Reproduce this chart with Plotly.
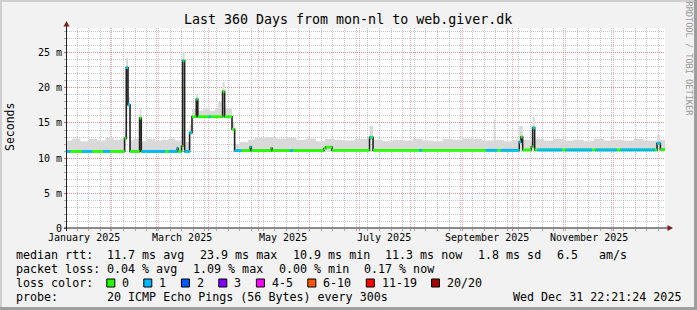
import pandas as pd
import plotly.graph_objects as go

# ---------------- data ----------------
t_start = "2025-01-05 22:21:24"
t_end = "2025-12-31 22:21:24"

# median rtt (ms), step series (value holds until next time)
median_t = [
    "2025-01-05 22:21", "2025-02-09 14:40", "2025-02-10 15:00", "2025-02-11 15:40",
    "2025-02-12 20:40", "2025-02-18 15:20", "2025-02-19 15:50", "2025-03-13 08:00",
    "2025-03-13 20:00", "2025-03-15 22:00", "2025-03-16 12:40", "2025-03-17 17:30",
    "2025-03-20 17:45", "2025-03-22 04:30", "2025-03-24 18:30", "2025-03-25 16:20",
    "2025-04-09 14:40", "2025-04-10 19:30", "2025-04-15 06:30", "2025-04-16 20:00",
    "2025-04-26 06:40", "2025-04-26 21:00", "2025-05-08 22:00", "2025-05-09 12:00",
    "2025-06-09 12:00", "2025-06-10 16:00", "2025-06-14 11:00", "2025-07-07 02:00",
    "2025-07-09 03:40", "2025-10-05 05:45", "2025-10-06 06:00", "2025-10-07 05:15",
    "2025-10-12 11:00", "2025-10-13 05:45", "2025-10-14 10:45", "2025-12-27 03:20",
    "2025-12-29 03:00", "2025-12-31 22:21",
]
median_ms = [
    10.95, 12.8, 22.9, 17.6,
    10.95, 15.7, 10.95, 11.4,
    10.95, 11.7, 23.9, 10.95,
    13.6, 15.9, 18.4, 15.9,
    19.5, 15.9, 14.1, 11.05,
    11.6, 11.05, 11.4, 11.05,
    11.35, 11.55, 11.1, 12.95,
    11.1, 12.3, 13.0, 11.15,
    11.6, 14.3, 11.15, 12.1,
    11.2, 11.2,
]

# smoke band (min / max ping rtt, ms)
smoke_t = [
    "2025-01-05 22:21", "2025-01-09", "2025-01-14", "2025-01-19", "2025-01-24",
    "2025-01-29", "2025-02-03", "2025-02-07", "2025-02-09 14:40", "2025-02-10 12:00",
    "2025-02-11 15:40", "2025-02-12 20:40", "2025-02-15", "2025-02-18 15:20",
    "2025-02-19 15:50", "2025-02-23", "2025-02-28", "2025-03-04", "2025-03-08",
    "2025-03-12", "2025-03-15 22:00", "2025-03-16 12:40", "2025-03-17 17:30",
    "2025-03-20 17:45", "2025-03-22 04:30", "2025-03-24 18:30", "2025-03-25 16:20",
    "2025-03-29", "2025-04-02", "2025-04-05", "2025-04-07", "2025-04-09 14:40",
    "2025-04-10 19:30", "2025-04-15 06:30", "2025-04-16 20:00", "2025-04-20",
    "2025-04-25", "2025-04-29", "2025-05-05", "2025-05-12", "2025-05-18",
    "2025-05-24", "2025-05-30", "2025-06-05", "2025-06-10", "2025-06-16",
    "2025-06-22", "2025-06-28", "2025-07-07 02:00", "2025-07-09 03:40", "2025-07-15",
    "2025-07-21", "2025-07-27", "2025-08-02", "2025-08-08", "2025-08-14",
    "2025-08-20", "2025-08-26", "2025-09-01", "2025-09-07", "2025-09-13",
    "2025-09-19 19:00", "2025-09-20 19:00", "2025-09-26", "2025-10-01",
    "2025-10-05 05:45", "2025-10-07 05:15", "2025-10-12 11:00", "2025-10-13 05:45",
    "2025-10-14 10:45", "2025-10-20", "2025-10-26", "2025-11-01", "2025-11-07",
    "2025-11-13", "2025-11-19", "2025-11-25", "2025-12-01", "2025-12-07",
    "2025-12-13", "2025-12-19", "2025-12-27 03:20", "2025-12-29 03:00",
    "2025-12-31 22:21",
]
smoke_lo = [
    10.75, 10.75, 10.75, 10.75, 10.75,
    10.75, 10.75, 10.75, 12.6, 17.4,
    17.4, 10.75, 10.75, 15.5,
    10.75, 10.75, 10.75, 10.75, 10.75,
    10.75, 11.5, 23.7, 10.75,
    13.4, 15.7, 18.2, 15.7,
    15.7, 15.7, 15.7, 15.7, 19.3,
    15.7, 13.9, 10.85, 10.85,
    10.85, 10.85, 10.85, 10.85, 10.85,
    10.85, 10.85, 10.85, 10.85, 10.85,
    10.85, 10.85, 12.6, 10.9, 10.9,
    10.9, 10.9, 10.9, 10.9, 10.9,
    10.9, 10.9, 10.9, 10.9, 10.9,
    10.9, 10.9, 10.9, 10.9,
    12.1, 10.9, 11.4, 14.1,
    10.95, 10.95, 10.95, 10.95, 10.95,
    10.95, 10.95, 10.95, 10.95, 10.95,
    10.95, 10.95, 11.9, 10.95,
    10.95,
]
smoke_hi = [
    12.5, 12.8, 12.4, 12.7, 12.5,
    12.9, 12.6, 12.8, 14.0, 24.3,
    18.7, 12.5, 12.8, 17.1,
    12.4, 12.7, 12.5, 12.6, 12.8,
    12.5, 13.0, 25.2, 12.3,
    14.8, 17.0, 19.2, 16.8,
    17.2, 16.7, 17.0, 18.0, 20.9,
    17.1, 15.0, 12.0, 12.3,
    12.6, 12.9, 13.0, 12.8, 12.9,
    12.6, 12.8, 12.4, 12.7, 12.6,
    12.5, 12.7, 14.6, 12.6, 12.4,
    12.6, 12.5, 12.7, 12.5, 12.4,
    12.7, 12.6, 12.8, 12.7, 12.5,
    15.5, 12.6, 12.4, 12.6,
    14.6, 12.6, 12.2, 15.9,
    12.7, 12.5, 12.7, 12.5, 12.6,
    12.4, 12.7, 12.5, 12.6, 12.5,
    12.7, 12.5, 13.3, 12.6,
    12.6,
]

# periods where 1 of 20 pings was lost (everything else: 0 lost)
loss1_from = [
    "2025-01-05 22:21", "2025-01-15 00:00", "2025-01-27 18:00", "2025-02-10 15:00",
    "2025-02-20 00:00", "2025-03-08 00:00", "2025-03-16 12:40", "2025-03-17 17:30",
    "2025-03-20 17:45", "2025-03-24 18:30", "2025-04-01 07:00", "2025-04-17 00:00",
    "2025-04-26 06:40", "2025-05-20 00:00", "2025-07-07 02:00", "2025-08-06 00:00",
    "2025-09-15 00:00", "2025-09-24 00:00", "2025-10-05 05:45", "2025-10-13 05:45",
    "2025-10-16 00:00", "2025-11-02 00:00", "2025-11-20 00:00", "2025-12-05 00:00",
    "2025-12-27 03:20",
]
loss1_to = [
    "2025-01-08 00:00", "2025-01-21 00:00", "2025-02-01 00:00", "2025-02-12 20:40",
    "2025-03-06 00:00", "2025-03-14 00:00", "2025-03-17 04:00", "2025-03-20 17:45",
    "2025-03-22 04:30", "2025-03-25 04:00", "2025-04-02 10:00", "2025-04-21 00:00",
    "2025-04-26 21:00", "2025-05-22 00:00", "2025-07-08 02:00", "2025-08-07 12:00",
    "2025-09-22 00:00", "2025-10-05 05:45", "2025-10-06 06:00", "2025-10-14 10:45",
    "2025-10-31 00:00", "2025-11-18 00:00", "2025-12-03 00:00", "2025-12-26 00:00",
    "2025-12-29 03:00",
]

y_tick_vals = [0, 5, 10, 15, 20, 25]
y_tick_text = ["0", "5 m", "10 m", "15 m", "20 m", "25 m"]
month_label_t = ["2025-01-16", "2025-03-16", "2025-05-16", "2025-07-16", "2025-09-16", "2025-11-16"]
month_label_text = ["January 2025", "March 2025", "May 2025", "July 2025", "September 2025", "November 2025"]

loss_labels = ["0", "1", "2", "3", "4-5", "6-10", "11-19", "20/20"]
loss_colors = ["#26ff00", "#00b8ff", "#0059ff", "#7e00ff", "#ff00ff", "#ff5500", "#ff0000", "#a10000"]

stats_rtt = ["11.7 ms avg", "23.9 ms max", "10.9 ms min", "11.3 ms now", "1.8 ms sd", "6.5", "am/s"]
stats_loss = ["0.04 % avg", "1.09 % max", "0.00 % min", "0.17 % now"]
probe_text = "20 ICMP Echo Pings (56 Bytes) every 300s"
stamp_text = "Wed Dec 31 22:21:24 2025"
title_text = "Last 360 Days from mon-nl to web.giver.dk"

# ---------------- layout geometry ----------------
W, H = 697, 310
L, R, T, B = 67, 32, 28, 82
PW, PH = W - L - R, H - T - B
Y_MAX = 28.57
MONO = "DejaVu Sans Mono"
LEG = 11.66


def px(x):
    return (x - L) / PW


def py(y):
    return (T + PH - y) / PH


# ---------------- build traces ----------------
mt = pd.to_datetime(median_t)
segx, segy = [], []
for i in range(len(mt) - 1):
    segx += [mt[i], mt[i + 1], None]
    segy += [median_ms[i], median_ms[i], None]

bx, by = [], []
for a, b in zip(pd.to_datetime(loss1_from), pd.to_datetime(loss1_to)):
    for i in range(len(mt) - 1):
        s, e = max(a, mt[i]), min(b, mt[i + 1])
        if s < e:
            bx += [s, e, None]
            by += [median_ms[i], median_ms[i], None]

fig = go.Figure()
fig.add_trace(go.Scatter(x=smoke_t, y=smoke_lo, mode="lines", line=dict(width=0, shape="hv"),
                         hoverinfo="skip", showlegend=False))
fig.add_trace(go.Scatter(x=smoke_t, y=smoke_hi, mode="lines", line=dict(width=0, shape="hv"),
                         fill="tonexty", fillcolor="#d9d9d9", hoverinfo="skip", showlegend=False))
fig.add_trace(go.Scatter(x=median_t, y=median_ms, mode="lines",
                         line=dict(color="#202020", width=1.6, shape="hv"), showlegend=False))
fig.add_trace(go.Scatter(x=segx, y=segy, mode="lines", line=dict(color=loss_colors[0], width=2.8),
                         connectgaps=False, showlegend=False))
fig.add_trace(go.Scatter(x=bx, y=by, mode="lines", line=dict(color=loss_colors[1], width=2.8),
                         connectgaps=False, showlegend=False))

anns = []


def text(x, y, s, size=LEG, anchor="left", color="#000000", angle=0):
    anns.append(dict(x=px(x), y=py(y), xref="paper", yref="paper", text=s, showarrow=False,
                     xanchor=anchor, yanchor="middle", textangle=angle, borderpad=0, borderwidth=0,
                     font=dict(family=MONO, size=size, color=color)))


text(348, 19, title_text, size=13.3, anchor="center")
text(10, 127, "Seconds", size=11.5, anchor="center", angle=-90)
text(688, 58.5, "RRDTOOL / TOBI OETIKER", size=8.6, anchor="center", color="#9a9a9a", angle=90)

for t, s in zip(month_label_t, month_label_text):
    anns.append(dict(x=t, y=0, xref="x", yref="paper", text=s, showarrow=False, xanchor="center",
                     yanchor="top", yshift=-3, borderpad=0, font=dict(family=MONO, size=10, color="#000")))

row_y = [254.5, 268.5, 282.5, 296.5]
text(16, row_y[0], "median rtt:")
for xx, s in zip([107.3, 200, 292.7, 385.4, 478.1, 556.8, 598.9], stats_rtt):
    text(xx, row_y[0], s)
text(16, row_y[1], "packet loss:")
for xx, s in zip([107.3, 193, 278.7, 364.4], stats_loss):
    text(xx, row_y[1], s)
text(16, row_y[2], "loss color:")
box_x = [106.8, 143.8, 181.4, 218.8, 256.4, 307.8, 366.3, 431.5]
shapes = []
for bxp, lab, col in zip(box_x, loss_labels, loss_colors):
    shapes.append(dict(type="rect", xref="paper", yref="paper", x0=px(bxp), x1=px(bxp + 8),
                       y0=py(287), y1=py(279), fillcolor=col, line=dict(color="#000", width=1)))
    text(bxp + 15.3, row_y[2], lab)
text(16, row_y[3], "probe:")
text(107.3, row_y[3], probe_text)
text(680.5, row_y[3], stamp_text, anchor="right")

# frame shading
shapes += [
    dict(type="rect", xref="paper", yref="paper", x0=px(0), x1=px(W), y0=py(2), y1=py(0),
         fillcolor="#cfcfcf", line=dict(width=0)),
    dict(type="rect", xref="paper", yref="paper", x0=px(0), x1=px(2), y0=py(H), y1=py(0),
         fillcolor="#cfcfcf", line=dict(width=0)),
    dict(type="rect", xref="paper", yref="paper", x0=px(W - 3), x1=px(W), y0=py(H), y1=py(0),
         fillcolor="#9e9e9e", line=dict(width=0)),
    dict(type="rect", xref="paper", yref="paper", x0=px(0), x1=px(W), y0=py(H), y1=py(H - 3),
         fillcolor="#9e9e9e", line=dict(width=0)),
]
# axes + arrows
shapes += [
    dict(type="line", xref="paper", yref="paper", x0=px(66.5), x1=px(66.5), y0=py(231), y1=py(25),
         line=dict(color="#1f1f1f", width=1)),
    dict(type="line", xref="paper", yref="paper", x0=px(64), x1=px(669), y0=py(228), y1=py(228),
         line=dict(color="#1f1f1f", width=1)),
    dict(type="path", xref="paper", yref="paper",
         path=f"M {px(63.5)} {py(26.5)} L {px(69.5)} {py(26.5)} L {px(66.5)} {py(21)} Z",
         fillcolor="#801f1f", line=dict(width=0)),
    dict(type="path", xref="paper", yref="paper",
         path=f"M {px(667.5)} {py(225)} L {px(667.5)} {py(231)} L {px(673)} {py(228)} Z",
         fillcolor="#801f1f", line=dict(width=0)),
]

fig.update_layout(
    width=W, height=H, margin=dict(l=L, r=R, t=T, b=B, pad=0),
    paper_bgcolor="#f2f2f2", plot_bgcolor="#ffffff",
    showlegend=False, annotations=anns, shapes=shapes,
    font=dict(family=MONO, size=10, color="#000"),
)
fig.update_xaxes(
    type="date", range=[t_start, t_end], showticklabels=False, showline=False, zeroline=False,
    tickmode="linear", tick0="2025-02-01", dtick="M1",
    showgrid=True, gridcolor="rgba(222,79,79,0.45)", griddash="1px,1px", gridwidth=1,
    ticks="outside", ticklen=2, tickcolor="rgba(222,79,79,0.7)",
    minor=dict(tick0="2025-01-05", dtick=7 * 86400000, showgrid=True,
               gridcolor="rgba(143,143,143,0.5)", griddash="1px,1px", gridwidth=1,
               ticks="outside", ticklen=2, tickcolor="rgba(143,143,143,0.7)"),
)
fig.update_yaxes(
    range=[0, Y_MAX], tickmode="array", tickvals=y_tick_vals, ticktext=y_tick_text,
    showline=False, zeroline=False,
    showgrid=True, gridcolor="rgba(222,79,79,0.45)", griddash="1px,1px", gridwidth=1,
    ticks="outside", ticklen=2, tickcolor="rgba(222,79,79,0.7)",
    tickfont=dict(family=MONO, size=10, color="#000"),
    minor=dict(tickmode="linear", tick0=0, dtick=1, showgrid=True,
               gridcolor="rgba(143,143,143,0.5)", griddash="1px,1px", gridwidth=1,
               ticks="outside", ticklen=2, tickcolor="rgba(143,143,143,0.7)"),
)

fig.write_html("out.html")
